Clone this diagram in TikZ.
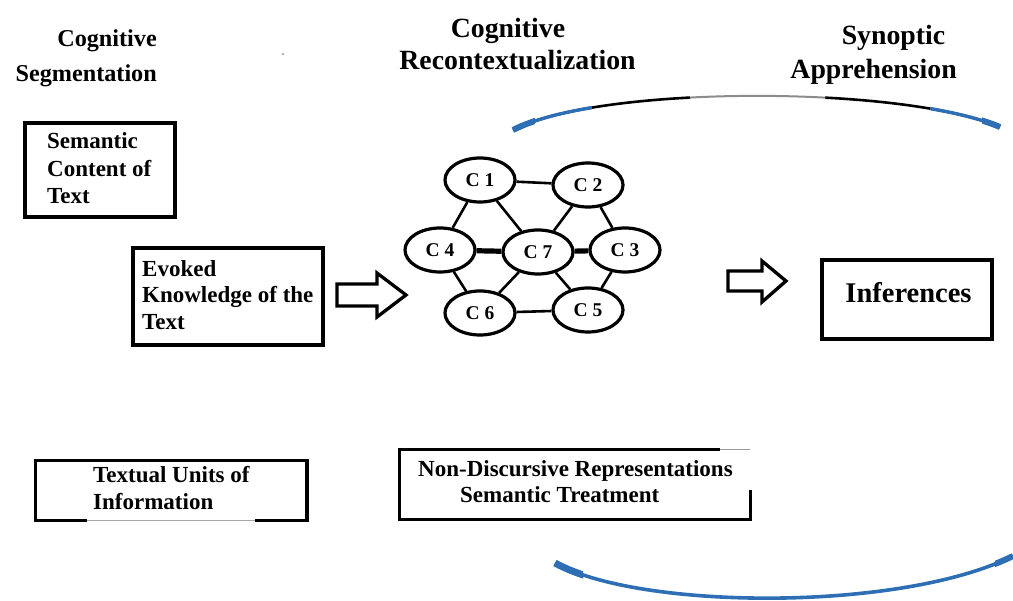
\documentclass[tikz,border=0pt]{standalone}
\usepackage{fontspec}
\setmainfont{Liberation Serif}
\usetikzlibrary{shapes.geometric,calc}
\definecolor{arcblue}{RGB}{46,110,180}
\newcommand\TopArc[1]{\draw[#1] (ta) .. controls (tc1) and (tc2) .. (tb);}
\newcommand\BottomArc[1]{\draw[#1] (ba) .. controls (bc1) and (bc2) .. (bb);}
\begin{document}
\begin{tikzpicture}[x=1pt,y=-1pt,
  head/.style={font=\fontsize{27.8}{31}\selectfont\bfseries, inner sep=0pt},
  headsmall/.style={font=\fontsize{24.2}{28}\selectfont\bfseries, inner sep=0pt},
  body/.style={font=\fontsize{23}{27}\selectfont\bfseries, inner sep=0pt, anchor=base west},
  frame/.style={draw=black, line width=3.6pt, rectangle, inner sep=0pt},
  plainframe/.style={rectangle, inner sep=0pt},
  concept/.style={draw=black, line width=3.2pt, ellipse, minimum width=70pt,
    minimum height=44pt, inner sep=0pt, font=\fontsize{19.5}{22}\selectfont\bfseries},
  link/.style={line width=2.6pt},
  strong/.style={line width=5.2pt},
  blockarrow/.style={draw=black, line width=3.3pt, fill=white, line join=miter},
]
\useasboundingbox (0,0) rectangle (1013,601);

% column headings
\node[headsmall, anchor=base east] (h1a) at (157,47) {Cognitive};
\node[headsmall, anchor=base east] (h1b) at (157,82) {Segmentation};
\node[head, anchor=base] (h2a) at (508,38) {Cognitive};
\node[head, anchor=base] (h2b) at (517.5,70) {Recontextualization};
\node[head, anchor=base] (h3a) at (893.5,45) {Synoptic};
\node[head, anchor=base east] (h3b) at (957,79) {Apprehension};

% small speck near the first heading
\fill[arcblue!50!gray!70] (283,54) circle (1.2pt);

% left column boxes
\node[frame, minimum width=150pt, minimum height=94pt] (sem) at (100,170) {};
\node[body] (sem1) at (47,149) {Semantic};
\node[body] (sem2) at (47,177) {Content of};
\node[body] (sem3) at (47,204) {Text};

\node[frame, minimum width=190pt, minimum height=97pt] (evo) at (228,296.5) {};
\node[body] (evo1) at (142,277) {Evoked};
\node[body] (evo2) at (142,303) {Knowledge of the};
\node[body] (evo3) at (142,330) {Text};

% textual units box, its lower edge partly faded
\node[plainframe, minimum width=271pt, minimum height=59pt] (tu) at (171.5,490.5) {};
\draw[line width=2.8pt] ($(tu.south west)+(51,0)$) -- (tu.south west) -- (tu.north west)
  -- (tu.north east) -- (tu.south east) -- ($(tu.south east)+(-52,0)$);
\draw[line width=3.6pt] (tu.north east) -- (tu.south east);
\draw[black!35, line width=1.2pt] ($(tu.south west)+(51,0)$) -- ($(tu.south east)+(-52,0)$);
\node[body] (tu1) at (93,483) {Textual Units of};
\node[body] (tu2) at (93,510) {Information};

% non-discursive box, open at the upper right
\node[plainframe, minimum width=350pt, minimum height=69pt] (nd) at (575,484.5) {};
\draw[line width=2.8pt] ($(nd.north east)+(-30,0)$) -- (nd.north west) -- (nd.south west)
  -- (nd.south east) -- ($(nd.south east)+(0,-29)$);
\draw[black!40, line width=1.2pt] ($(nd.north east)+(-30,0)$) -- (nd.north east);
\node[body] (nd1) at (418,477) {Non-Discursive Representations};
\node[body] (nd2) at (460,503) {Semantic Treatment};

% inferences box
\node[frame, line width=4.2pt, minimum width=170pt, minimum height=79pt] (inf) at (907,299.5) {};
\node[font=\fontsize{28.5}{32}\selectfont\bfseries, inner sep=0pt, anchor=base] (inf1) at (908.5,303) {Inferences};

% block arrows
\coordinate (a1) at (337,295);
\draw[blockarrow] (a1) ++(0,-11) -- ++(40,0) -- ++(0,-11) -- ++(29,22) -- ++(-29,22)
  -- ++(0,-11) -- ++(-40,0) -- cycle;
\coordinate (a2) at (728,281);
\draw[blockarrow] (a2) ++(0,-10) -- ++(34,0) -- ++(0,-10) -- ++(24,20) -- ++(-24,21)
  -- ++(0,-11) -- ++(-34,0) -- cycle;

% concept network
\node[concept] (c1) at (480,180) {C 1};
\node[concept] (c2) at (588,185) {C 2};
\node[concept] (c4) at (440,250) {C 4};
\node[concept] (c7) at (538,252) {C 7};
\node[concept] (c3) at (625,250) {C 3};
\node[concept] (c6) at (480,313) {C 6};
\node[concept] (c5) at (588,310) {C 5};

\draw[link] (c1) -- (c2);
\draw[link] (c1) -- (c4);
\draw[link] (c1) -- (c7);
\draw[link] (c2) -- (c7);
\draw[link] (c2) -- (c3);
\draw[link] (c4) -- (c6);
\draw[link] (c7) -- (c6);
\draw[link] (c7) -- (c5);
\draw[link] (c3) -- (c5);
\draw[link] (c6) -- (c5);
\draw[strong] (c4) -- (c7);
\draw[strong] (c7) -- (c3);

% upper sweep
\coordinate (ta) at (513,130);
\coordinate (tc1) at (600,85);
\coordinate (tc2) at (900,85);
\coordinate (tb) at (1000,127);
\TopArc{black, line width=2.6pt}
\begin{scope}
  \clip (690,0) rectangle (825,200);
  \TopArc{white, line width=4pt}
  \TopArc{black!45, line width=2pt}
\end{scope}
\begin{scope}
  \clip (0,0) rectangle (592,200);
  \TopArc{arcblue, line width=3.4pt}
\end{scope}
\begin{scope}
  \clip (0,0) rectangle (535,200);
  \TopArc{arcblue, line width=6pt}
\end{scope}
\begin{scope}
  \clip (930,0) rectangle (1013,200);
  \TopArc{arcblue, line width=3.4pt}
\end{scope}
\begin{scope}
  \clip (982,0) rectangle (1013,200);
  \TopArc{arcblue, line width=6pt}
\end{scope}

% lower sweep
\coordinate (ba) at (555,563);
\coordinate (bc1) at (640,610);
\coordinate (bc2) at (900,612);
\coordinate (bb) at (1013,556);
\BottomArc{arcblue, line width=3.6pt}
\begin{scope}
  \clip (0,500) rectangle (583,601);
  \BottomArc{arcblue, line width=7pt}
\end{scope}
\begin{scope}
  \clip (995,500) rectangle (1013,601);
  \BottomArc{arcblue, line width=6pt}
\end{scope}
\end{tikzpicture}
\end{document}
